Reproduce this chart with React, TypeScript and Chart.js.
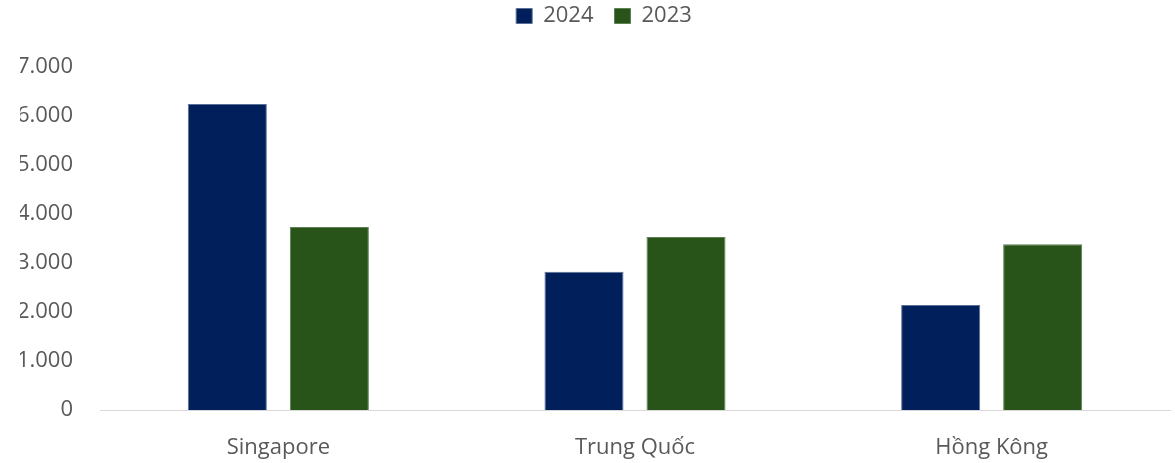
import React, { useEffect, useRef } from "react";
import { Chart, registerables } from "chart.js";

Chart.register(...registerables);

const categories = ["Singapore", "Trung Quốc", "Hồng Kông"];
const series2024 = [6245, 2820, 2145];
const series2023 = [3735, 3530, 3385];
const yTicks = [0, 1000, 2000, 3000, 4000, 5000, 6000, 7000];

const fmt = (v: number) => String(v).replace(/\B(?=(\d{3})+(?!\d))/g, ".");

const legendTweak = {
  id: "legendTweak",
  beforeInit(chart: any) {
    const orig = chart.legend.fit;
    chart.legend.fit = function () {
      orig.bind(this)();
      this.height = 83;
    };
  },
  afterLayout(chart: any) {
    chart.legend.left += 9;
    chart.legend.right += 9;
  },
};

export default function App() {
  const ref = useRef<HTMLCanvasElement | null>(null);
  useEffect(() => {
    document.body.style.margin = "0";
    const font = "'Open Sans', 'Noto Sans', sans-serif";
    const chart = new Chart(ref.current!, {
      type: "bar",
      data: {
        labels: categories,
        datasets: [
          { label: "2024", data: series2024, backgroundColor: "#001F5B", borderColor: "#5a6f95", borderWidth: 1 },
          { label: "2023", data: series2023, backgroundColor: "#285419", borderColor: "#5f7f55", borderWidth: 1 },
        ],
      },
      plugins: [legendTweak],
      options: {
        animation: false,
        responsive: false,
        maintainAspectRatio: false,
        layout: { padding: { left: 20, right: 5, top: -16, bottom: 0 } },
        datasets: { bar: { categoryPercentage: 0.572, barPercentage: 0.775 } },
        plugins: {
          tooltip: { enabled: false },
          legend: {
            position: "top",
            labels: {
              font: { family: font, size: 22 },
              color: "#595959",
              boxWidth: 16,
              boxHeight: 15,
              padding: 21,
            },
          },
        },
        scales: {
          x: {
            grid: { display: false, drawTicks: false },
            border: { color: "#d9d9d9", width: 1 },
            ticks: { font: { family: font, size: 22 }, color: "#595959", padding: 25 },
            afterFit: (axis: any) => {
              axis.height = 53;
            },
          },
          y: {
            min: 0,
            max: 7000,
            afterBuildTicks: (axis: any) => {
              axis.ticks = yTicks.map((v) => ({ value: v }));
            },
            afterFit: (axis: any) => {
              axis.width = 80;
            },
            grid: { display: false, drawTicks: false },
            border: { display: false },
            ticks: {
              font: { family: font, size: 22 },
              color: "#595959",
              padding: 27,
              callback: (v: any) => fmt(Number(v)),
            },
          },
        },
      },
    });
    return () => chart.destroy();
  }, []);
  return (
    <div style={{ width: 1175, height: 463, background: "#fff" }}>
      <canvas ref={ref} width={1175} height={463} style={{ display: "block" }} />
    </div>
  );
}
